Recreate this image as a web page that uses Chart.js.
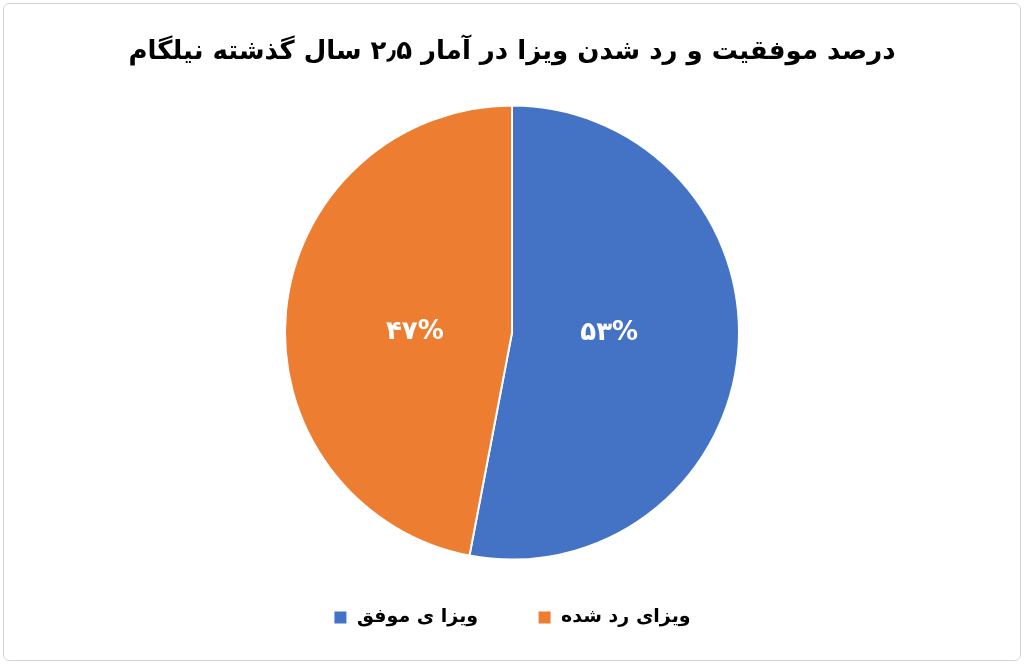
<!DOCTYPE html>
<html>
<head>
<meta charset="utf-8">
<script src="https://cdn.jsdelivr.net/npm/chart.js@4/dist/chart.umd.min.js"></script>
<style>
  html, body { margin: 0; padding: 0; background: #fff; }
  .wrap { position: relative; width: 1024px; height: 664px; }
  .frame {
    position: absolute; left: 3px; top: 3px; width: 1016px; height: 656px;
    border: 1px solid #d4d4d4; border-radius: 6px; pointer-events: none;
  }
</style>
</head>
<body>
<div class="wrap">
  <canvas id="c" dir="rtl"></canvas>
  <div class="frame"></div>
</div>
<script>
// داده‌ها
const titleText = 'درصد موفقیت و رد شدن ویزا در آمار ۲٫۵ سال گذشته نیلگام';
const categories = ['ویزا ی موفق', 'ویزای رد شده'];
const values = [53, 47];
const colors = ['#4472C4', '#ED7D31'];

const FONT = '"DejaVu Sans", "Noto Sans", sans-serif';

// اعداد فارسی
function faDigits(n) {
  return String(n).replace(/\d/g, d => '۰۱۲۳۴۵۶۷۸۹'[d]);
}

/* برچسب درصد داخل هر برش */
const sliceLabels = {
  id: 'sliceLabels',
  afterDatasetsDraw(chart) {
    const { ctx } = chart;
    const meta = chart.getDatasetMeta(0);
    const total = values.reduce((a, b) => a + b, 0);
    ctx.save();
    ctx.fillStyle = '#ffffff';
    ctx.font = 'bold 26px ' + FONT;
    ctx.textAlign = 'center';
    ctx.textBaseline = 'middle';
    ctx.direction = 'ltr';
    meta.data.forEach((arc, i) => {
      const mid = (arc.startAngle + arc.endAngle) / 2;
      const r = arc.outerRadius * 0.43;
      const x = arc.x + Math.cos(mid) * r;
      const y = arc.y + Math.sin(mid) * r * 0.05;
      const pct = Math.round(values[i] / total * 100);
      ctx.fillText(faDigits(pct) + '%', x, y);
    });
    ctx.restore();
  }
};

new Chart(document.getElementById('c'), {
  type: 'pie',
  data: {
    labels: categories,
    datasets: [{
      data: values,
      backgroundColor: colors,
      borderColor: '#ffffff',
      borderWidth: 2,
      radius: 227,
    }]
  },
  options: {
    responsive: true,
    maintainAspectRatio: false,
    animation: false,
    layout: { padding: { top: 0, bottom: 27, left: 0, right: 0 } },
    plugins: {
      title: {
        display: true,
        text: titleText,
        color: '#000',
        font: { family: FONT, size: 26, weight: 'bold' },
        padding: { top: 37, bottom: 20 },
      },
      legend: {
        display: true,
        position: 'bottom',
        labels: {
          color: '#000',
          font: { family: FONT, size: 19, weight: 'bold' },
          boxWidth: 14,
          boxHeight: 14,
          padding: 31,
          generateLabels(chart) {
            const items = Chart.controllers.pie.overrides.plugins.legend.labels.generateLabels(chart);
            // فاصله‌ی بیشتر بعد از آیتم اول
            if (items[0]) items[0].text = '\u2003\u2002' + items[0].text;
            return items;
          }
        }
      },
      tooltip: { enabled: false },
    }
  },
  plugins: [sliceLabels]
});
</script>
</body>
</html>
